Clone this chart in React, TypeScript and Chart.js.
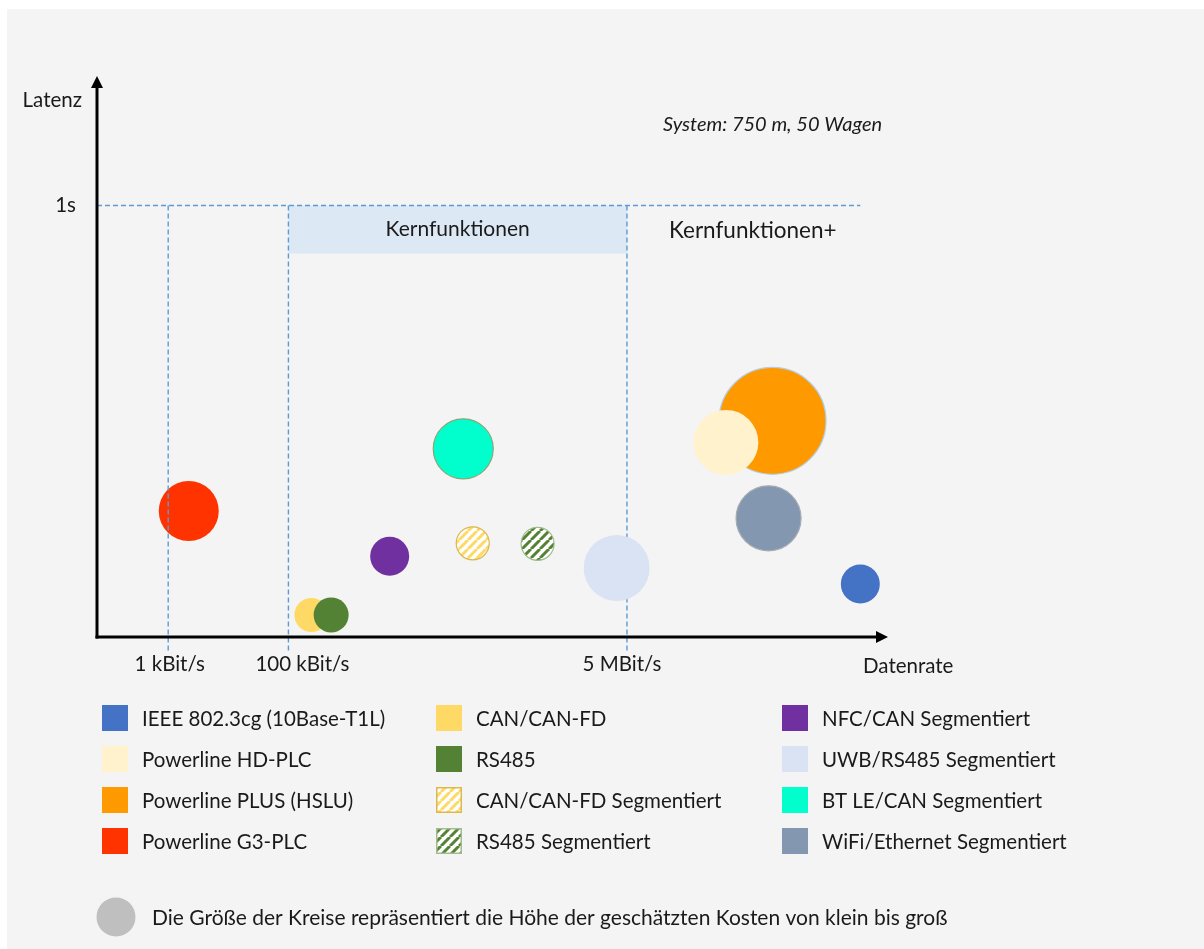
import { useEffect, useRef } from "react";
import { Chart, registerables } from "chart.js";

Chart.register(...registerables);

// ---- Data ---------------------------------------------------------------
// Technologies, in legend order (three columns of four).
const technologies = [
  "IEEE 802.3cg (10Base-T1L)",
  "Powerline HD-PLC",
  "Powerline PLUS (HSLU)",
  "Powerline G3-PLC",
  "CAN/CAN-FD",
  "RS485",
  "CAN/CAN-FD Segmentiert",
  "RS485 Segmentiert",
  "NFC/CAN Segmentiert",
  "UWB/RS485 Segmentiert",
  "BT LE/CAN Segmentiert",
  "WiFi/Ethernet Segmentiert",
];

// Position on the (schematic) data-rate axis, 0..100.
const dataRate = [96.5, 79.5, 85.4, 11.6, 27.1, 29.6, 47.5, 55.7, 37.0, 65.7, 46.3, 84.9];

// Latency in seconds.
const latency = [0.123, 0.451, 0.501, 0.292, 0.051, 0.051, 0.217, 0.216, 0.187, 0.16, 0.436, 0.275];

// Estimated cost, shown as bubble radius.
const cost = [19.5, 32.5, 53.5, 30, 17, 17.5, 16.5, 16.5, 19.5, 33, 30, 32.5];

const fillColors = [
  "#4472c4",
  "#fff2cc",
  "#ff9900",
  "#ff3300",
  "#ffd966",
  "#548235",
  "#ffd966",
  "#548235",
  "#7030a0",
  "#dae3f3",
  "#00ffcc",
  "#8497b0",
];
const isSegmentedHatch = [false, false, false, false, false, false, true, true, false, false, false, false];
const outlineColors = [
  "", "", "#b4cde4", "", "", "", "#dcb84e", "#9fbc8c", "", "", "#86a877", "#a6abb2",
];
// RS485 sits on top of CAN/CAN-FD
const layerOrder = [0, 0, 0, 0, 1, 0, 0, 0, 0, 0, 0, 0];

// Axis annotations
const rateTickValues = [9, 24.2, 67];
const rateTickLabels = ["1 kBit/s", "100 kBit/s", "5 MBit/s"];
const latencyTickValue = 1;
const latencyTickLabel = "1s";
const latencyGuideEnd = 96.5;
const coreBand = [24.2, 67];

// ---- Styles -------------------------------------------------------------
const FONT = 'Lato, "Open Sans", sans-serif';
const TEXT = "#1a1a1a";
const GUIDE = "#5b9bd5";
const tickLabelShift = [1.5, 14, -5];
const legendColumns = [102, 436, 782];
const legendRows = [718, 759, 800, 841];

function makeHatch(color: string): CanvasPattern | string {
  const s = 9;
  const c = document.createElement("canvas");
  c.width = s;
  c.height = s;
  const g = c.getContext("2d");
  if (!g) return color;
  g.fillStyle = "#ffffff";
  g.fillRect(0, 0, s, s);
  g.strokeStyle = color;
  g.lineWidth = 3;
  g.beginPath();
  for (const k of [-1, 0, 1]) {
    g.moveTo(k * s, s);
    g.lineTo(k * s + s, 0);
  }
  g.stroke();
  const p = g.createPattern(c, "repeat");
  return p ?? color;
}

function dashedLine(ctx: CanvasRenderingContext2D, x1: number, y1: number, x2: number, y2: number) {
  ctx.save();
  ctx.strokeStyle = GUIDE;
  ctx.lineWidth = 1.4;
  ctx.setLineDash([5, 3]);
  ctx.beginPath();
  ctx.moveTo(x1, y1);
  ctx.lineTo(x2, y2);
  ctx.stroke();
  ctx.restore();
}

const schematicPlugin = {
  id: "schematic",
  beforeDraw(chart: any) {
    const { ctx } = chart;
    const x = chart.scales.x;
    const y = chart.scales.y;
    ctx.save();
    ctx.fillStyle = "#ffffff";
    ctx.fillRect(0, 0, chart.width, chart.height);
    ctx.fillStyle = "#f4f4f4";
    ctx.fillRect(7, 9, chart.width - 7, chart.height - 9);

    const y1 = y.getPixelForValue(latencyTickValue);
    // Kernfunktionen band
    const bx1 = x.getPixelForValue(coreBand[0]);
    const bx2 = x.getPixelForValue(coreBand[1]);
    ctx.fillStyle = "#dde8f5";
    ctx.fillRect(bx1, y1, bx2 - bx1, 48);

    // guides
    dashedLine(ctx, x.getPixelForValue(0), y1, x.getPixelForValue(latencyGuideEnd), y1);
    rateTickValues.forEach((v, i) => {
      if (i === 0) return;
      const px = x.getPixelForValue(v);
      dashedLine(ctx, px, y1, px, y.getPixelForValue(0) + 14);
    });

    // labels
    ctx.fillStyle = TEXT;
    ctx.font = `21px ${FONT}`;
    ctx.textBaseline = "middle";
    ctx.textAlign = "center";
    ctx.fillText("Kernfunktionen", (bx1 + bx2) / 2, y1 + 24);
    ctx.textAlign = "left";
    ctx.font = `22.5px ${FONT}`;
    ctx.fillText("Kernfunktionen+", bx2 + 42, y1 + 25);

    ctx.font = `italic 20px ${FONT}`;
    ctx.fillText("System: 750 m, 50 Wagen", 663, 125);
    ctx.restore();
  },
  afterDatasetsDraw(chart: any) {
    const { ctx } = chart;
    const x = chart.scales.x;
    const y = chart.scales.y;
    const x0 = x.getPixelForValue(0);
    const yb = y.getPixelForValue(0);
    const y1 = y.getPixelForValue(latencyTickValue);
    const area = chart.chartArea;

    // first guide lies over the G3 bubble
    const g0 = x.getPixelForValue(rateTickValues[0]);
    dashedLine(ctx, g0, y1, g0, yb + 14);

    ctx.save();
    // axes with arrow heads
    ctx.strokeStyle = "#000";
    ctx.fillStyle = "#000";
    ctx.lineWidth = 3;
    ctx.beginPath();
    ctx.moveTo(x0, yb + 1.5);
    ctx.lineTo(x0, area.top + 10);
    ctx.stroke();
    ctx.beginPath();
    ctx.moveTo(x0 - 1.5, yb);
    ctx.lineTo(area.right - 10, yb);
    ctx.stroke();
    ctx.beginPath();
    ctx.moveTo(x0, area.top);
    ctx.lineTo(x0 - 6, area.top + 12);
    ctx.lineTo(x0 + 6, area.top + 12);
    ctx.closePath();
    ctx.fill();
    ctx.beginPath();
    ctx.moveTo(area.right, yb);
    ctx.lineTo(area.right - 12, yb - 6);
    ctx.lineTo(area.right - 12, yb + 6);
    ctx.closePath();
    ctx.fill();

    // axis texts
    ctx.fillStyle = TEXT;
    ctx.font = `20.5px ${FONT}`;
    ctx.textBaseline = "alphabetic";
    ctx.textAlign = "right";
    ctx.fillText("Latenz", x0 - 15, 107);
    ctx.fillText(latencyTickLabel, x0 - 21, y1 + 7);
    ctx.textAlign = "center";
    rateTickValues.forEach((v, i) => {
      ctx.fillText(rateTickLabels[i], x.getPixelForValue(v) + tickLabelShift[i], yb + 34);
    });
    ctx.textAlign = "left";
    ctx.fillText("Datenrate", 863, yb + 36);

    // legend
    const ds = chart.data.datasets;
    ctx.font = `20.5px ${FONT}`;
    ctx.textBaseline = "middle";
    ds.forEach((d: any, i: number) => {
      const col = Math.floor(i / 4);
      const row = i % 4;
      const sx = legendColumns[col];
      const cy = legendRows[row];
      ctx.fillStyle = d.backgroundColor;
      ctx.fillRect(sx, cy - 13, 26, 26);
      if (isSegmentedHatch[i]) {
        ctx.strokeStyle = outlineColors[i];
        ctx.lineWidth = 1.5;
        ctx.strokeRect(sx + 0.75, cy - 12.25, 24.5, 24.5);
      }
      ctx.fillStyle = TEXT;
      ctx.fillText(d.label, sx + 40, cy + 1);
    });

    // bubble size note
    ctx.fillStyle = "#bfbfbf";
    ctx.beginPath();
    ctx.arc(116, 917, 19.5, 0, Math.PI * 2);
    ctx.fill();
    ctx.fillStyle = TEXT;
    ctx.font = `21px ${FONT}`;
    ctx.fillText(
      "Die Größe der Kreise repräsentiert die Höhe der geschätzten Kosten von klein bis groß",
      152,
      918
    );
    ctx.restore();
  },
};

export default function App() {
  const canvasRef = useRef<HTMLCanvasElement | null>(null);

  useEffect(() => {
    const canvas = canvasRef.current;
    if (!canvas) return;

    const datasets = technologies.map((name, i) => {
      const fill = isSegmentedHatch[i] ? makeHatch(fillColors[i]) : fillColors[i];
      return {
        label: name,
        data: [{ x: dataRate[i], y: latency[i], r: cost[i] }],
        backgroundColor: fill,
        borderColor: outlineColors[i] || fillColors[i],
        borderWidth: outlineColors[i] ? 1.2 : 0,
        order: layerOrder[i],
        clip: false as const,
      };
    });

    const chart = new Chart(canvas, {
      type: "bubble",
      data: { datasets },
      options: {
        responsive: false,
        animation: false,
        events: [],
        layout: { padding: { left: 97, right: 316, top: 76, bottom: 312 } },
        scales: {
          x: { type: "linear", min: 0, max: 100, display: false },
          y: { type: "linear", min: 0, max: 1.3, display: false },
        },
        plugins: {
          legend: { display: false },
          tooltip: { enabled: false },
        },
      },
      plugins: [schematicPlugin],
    });

    return () => chart.destroy();
  }, []);

  return (
    <div style={{ position: "absolute", left: 0, top: 0, width: 1204, height: 949 }}>
      <canvas ref={canvasRef} width={1204} height={949} style={{ display: "block" }} />
    </div>
  );
}
